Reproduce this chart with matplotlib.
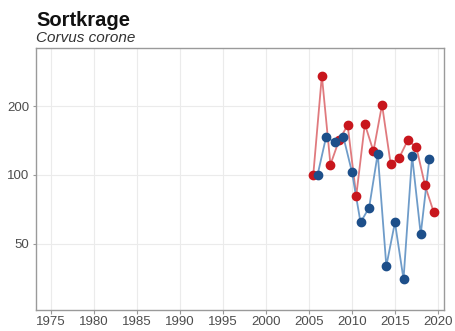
import matplotlib
matplotlib.use("Agg")
import matplotlib.pyplot as plt
from matplotlib.ticker import FixedLocator, NullLocator, NullFormatter

plt.rcParams["font.family"] = ["Liberation Sans", "DejaVu Sans"]

# index values, 2006 = 100
red_years = [2006, 2007, 2008, 2009, 2010, 2011, 2012, 2013, 2014, 2015, 2016, 2017, 2018, 2019, 2020]
red_values = [100, 272, 111, 142, 165, 81, 167, 127, 203, 112, 119, 142, 132, 90, 69]
blue_years = [2006, 2007, 2008, 2009, 2010, 2011, 2012, 2013, 2014, 2015, 2016, 2017, 2018, 2019]
blue_values = [100, 147, 139, 147, 103, 62, 72, 124, 40, 62, 35, 121, 55, 117]

x_ticks = [1975, 1980, 1985, 1990, 1995, 2000, 2005, 2010, 2015, 2020]
y_ticks = [50, 100, 200]

red = "#c8161d"
blue = "#1d4f8a"

fig = plt.figure(figsize=(4.55, 3.31), dpi=100)
ax = fig.add_axes([36 / 455, 1 - 309.5 / 331, (443.5 - 36) / 455, (309.5 - 47.5) / 331])

ax.plot([y - 0.5 for y in red_years], red_values, color="#e07a7e", lw=1.3, zorder=3)
ax.plot([y - 0.5 for y in red_years], red_values, "o", color=red, ms=6, zorder=4)
ax.plot(blue_years, blue_values, color="#6f9cc9", lw=1.3, zorder=3)
ax.plot(blue_years, blue_values, "o", color=blue, ms=6, zorder=4)

ax.set_yscale("log")
ax.set_xlim(1973.25, 2020.65)
ax.set_ylim(25.8, 361)
ax.xaxis.set_major_locator(FixedLocator(x_ticks))
ax.yaxis.set_major_locator(FixedLocator(y_ticks))
ax.yaxis.set_minor_locator(NullLocator())
ax.yaxis.set_minor_formatter(NullFormatter())
ax.set_yticklabels([str(v) for v in y_ticks])
ax.set_xticklabels([str(v) for v in x_ticks])

ax.grid(True, color="#ebebeb", lw=0.8, zorder=0)
for s in ax.spines.values():
    s.set_color("#9a9a9a")
    s.set_linewidth(1.0)
ax.tick_params(axis="both", colors="#9a9a9a", labelcolor="#4d4d4d", labelsize=9.5, length=3, width=0.8, pad=2)
ax.tick_params(axis="y", length=2, pad=3)

fig.text(36 / 455, 1 - 20 / 331, "Sortkrage", fontsize=14.5, fontweight="bold", color="#111111", va="center", ha="left")
fig.text(36 / 455, 1 - 38 / 331, "Corvus corone", fontsize=11, style="italic", color="#333333", va="center", ha="left")

fig.savefig("out.png", dpi=100)
